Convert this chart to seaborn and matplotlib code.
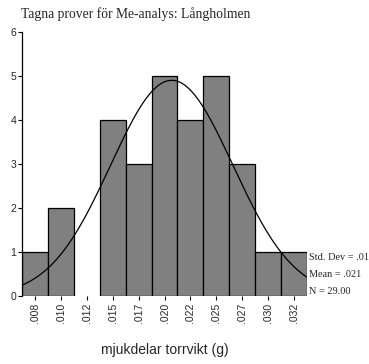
import numpy as np
import pandas as pd
import matplotlib
matplotlib.use("Agg")
import matplotlib.pyplot as plt
import seaborn as sns

# Histogram of soft-tissue dry weight (g), bins of width .0025
bin_centers = [0.0075, 0.0100, 0.0125, 0.0150, 0.0175, 0.0200,
               0.0225, 0.0250, 0.0275, 0.0300, 0.0325]
counts = [1, 2, 0, 4, 3, 5, 4, 5, 3, 1, 1]
tick_labels = [".008", ".010", ".012", ".015", ".017", ".020",
               ".022", ".025", ".027", ".030", ".032"]

bin_width = 0.0025
mean_val = 0.0207
std_val = 0.0059
n_val = 29.00

sns.set_theme(style="white")
plt.rcParams["font.family"] = ["Liberation Sans", "DejaVu Sans"]

fig = plt.figure(figsize=(3.69, 3.64), dpi=100)
ax = fig.add_axes([0.0596, 0.187, 0.7724, 0.725])

edges = [c - bin_width / 2 for c in bin_centers] + [bin_centers[-1] + bin_width / 2]
df = pd.DataFrame({"x": bin_centers, "n": counts})
sns.histplot(data=df, x="x", weights="n", bins=edges, stat="count",
             color="#808080", edgecolor="black", linewidth=0.9, alpha=1.0, ax=ax)
for p in ax.patches:
    if p.get_height() == 0:
        p.set_visible(False)

# Fitted normal curve scaled to counts
xs = np.linspace(edges[0], edges[-1], 300)
ys = n_val * bin_width / (std_val * np.sqrt(2 * np.pi)) * np.exp(-0.5 * ((xs - mean_val) / std_val) ** 2)
sns.lineplot(x=xs, y=ys, color="black", linewidth=0.9, ax=ax)

ax.set_xlim(edges[0], edges[-1])
ax.set_ylim(0, 6)
ax.set_yticks(range(0, 7))
ax.set_xticks(bin_centers)
ax.set_xticklabels(tick_labels, rotation=90, fontsize=7.5)
ax.tick_params(axis="y", labelsize=7.5, length=3, width=0.8, pad=1, left=True, color="black")
ax.tick_params(axis="x", length=3, width=0.8, pad=2, bottom=True, color="black")
ax.set_ylabel("")
ax.set_xlabel("mjukdelar torrvikt (g)", fontsize=10, labelpad=14)

for side in ["top", "right", "bottom"]:
    ax.spines[side].set_visible(False)
ax.spines["left"].set_color("black")
ax.spines["left"].set_linewidth(0.9)

fig.text(0.057, 0.962, "Tagna prover för Me-analys: Långholmen",
         fontsize=9.8, family=["Liberation Serif", "DejaVu Serif"], va="center")

stats = ["Std. Dev = .01", "Mean = .021", "N = 29.00"]
for i, s in enumerate(stats):
    fig.text(0.837, 1 - (257 + 17.5 * i) / 364, s, fontsize=7.4,
             family=["Liberation Serif", "DejaVu Serif"], va="center")

fig.savefig("out.png", dpi=100)
